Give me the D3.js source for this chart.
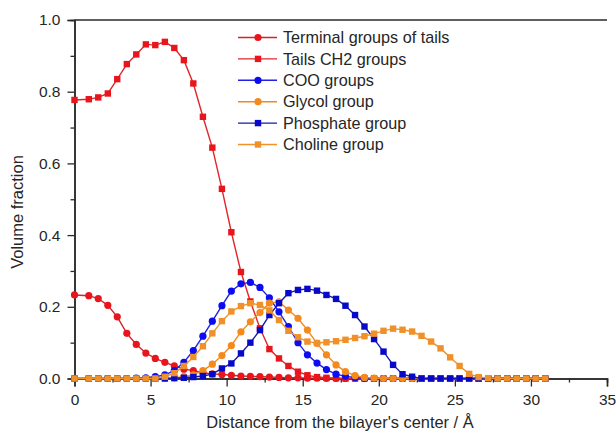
<!DOCTYPE html>
<html>
<head>
<meta charset="utf-8">
<script src="https://d3js.org/d3.v7.min.js"></script>
<style>
  body { margin: 0; background: #fff; }
  svg { display: block; font-family: "Liberation Sans", Arial, sans-serif; }
</style>
</head>
<body>
<svg width="616" height="433"></svg>
<script>
var xPos = [0, 0.94, 1.56, 2.19, 2.81, 3.44, 4.06, 4.69, 5.31, 5.94, 6.56, 7.19, 7.81, 8.44, 9.06, 9.69,
  10.31, 10.94, 11.56, 12.19, 12.81, 13.44, 14.06, 14.69, 15.31, 15.94, 16.56, 17.19, 17.81, 18.44, 19.06,
  19.69, 20.31, 20.94, 21.56, 22.19, 22.81, 23.44, 24.06, 24.69, 25.31, 25.94, 26.56, 27.19, 27.81, 28.44,
  29.06, 29.69, 30.31, 30.94];

var terminal = [0.233, 0.231, 0.223, 0.204, 0.172, 0.126, 0.095, 0.071, 0.056, 0.045, 0.035, 0.026, 0.022,
  0.016, 0.013, 0.011, 0.009, 0.007, 0.006, 0.005, 0.004, 0.003, 0.002, 0.002, 0.001, 0.001,
  0, 0, 0, 0, 0, 0, 0, 0, 0, 0, 0, 0, 0, 0, 0, 0, 0, 0, 0, 0, 0, 0, 0, 0];

var ch2 = [0.777, 0.779, 0.784, 0.795, 0.835, 0.877, 0.904, 0.932, 0.930, 0.939, 0.922, 0.888, 0.823, 0.730,
  0.644, 0.529, 0.408, 0.297, 0.215, 0.140, 0.082, 0.056, 0.035, 0.019, 0.009, 0.004, 0.002, 0.001,
  0, 0, 0, 0, 0, 0, 0, 0, 0, 0, 0, 0, 0, 0, 0, 0, 0, 0, 0, 0, 0, 0];

var coo = [0, 0, 0, 0, 0, 0, 0.001, 0.002, 0.005, 0.010, 0.022, 0.045, 0.078, 0.118, 0.160, 0.203, 0.244,
  0.264, 0.268, 0.254, 0.225, 0.186, 0.145, 0.100, 0.066, 0.043, 0.025, 0.012, 0.006, 0.003, 0.001,
  0, 0, 0, 0, 0, 0, 0, 0, 0, 0, 0, 0, 0, 0, 0, 0, 0, 0, 0];

var glycol = [0, 0, 0, 0, 0, 0, 0, 0, 0, 0.001, 0.002, 0.005, 0.010, 0.022, 0.040, 0.064, 0.092, 0.130,
  0.158, 0.184, 0.210, 0.214, 0.191, 0.168, 0.135, 0.098, 0.066, 0.038, 0.019, 0.008, 0.003, 0.001,
  0, 0, 0, 0, 0, 0, 0, 0, 0, 0, 0, 0, 0, 0, 0, 0, 0, 0];

var phosphate = [0, 0, 0, 0, 0, 0, 0, 0, 0, 0, 0.001, 0.002, 0.004, 0.007, 0.012, 0.028, 0.042, 0.070,
  0.100, 0.135, 0.177, 0.210, 0.238, 0.247, 0.250, 0.245, 0.233, 0.222, 0.203, 0.177, 0.145, 0.110,
  0.075, 0.038, 0.012, 0.005, 0, 0, 0, 0, 0, 0, 0, 0, 0, 0, 0, 0, 0, 0];

var choline = [0, 0, 0, 0, 0, 0, 0, 0, 0, 0.005, 0.015, 0.035, 0.060, 0.090, 0.126, 0.160, 0.187, 0.202,
  0.210, 0.205, 0.190, 0.163, 0.133, 0.115, 0.103, 0.099, 0.101, 0.104, 0.108, 0.113, 0.118, 0.125,
  0.133, 0.139, 0.136, 0.131, 0.119, 0.103, 0.084, 0.059, 0.035, 0.013, 0.004, 0.001, 0, 0, 0, 0, 0, 0];

var seriesNames = ['Terminal groups of tails', 'Tails CH2 groups', 'COO groups', 'Glycol group',
  'Phosphate group', 'Choline group'];
var seriesValues = [terminal, ch2, coo, glycol, phosphate, choline];

var xTicks = [0, 5, 10, 15, 20, 25, 30, 35];
var yTicks = [0, 0.2, 0.4, 0.6, 0.8, 1.0];

// look of each series, same order as the names
var lineColors = ['#d2222a', '#e0262c', '#2020e8', '#f08a20', '#1818a8', '#f09228'];
var markColors = ['#e8151d', '#e8151d', '#0c0cf0', '#f48a1c', '#0808c8', '#f0902a'];
var markShapes = ['circle', 'square', 'circle', 'circle', 'square', 'square'];

var svg = d3.select('svg');

var x = d3.scaleLinear().domain([0, 35]).range([74.5, 607]);
var y = d3.scaleLinear().domain([0, 1]).range([378.5, 20]);

var axisColor = '#2a2a2a';

// top frame line
svg.append('line')
  .attr('x1', x(0)).attr('x2', x(35))
  .attr('y1', y(1)).attr('y2', y(1))
  .attr('stroke', axisColor)
  .attr('stroke-width', 1.5);

// minor ticks
var xMinor = svg.append('g')
  .attr('transform', 'translate(0,' + y(0) + ')')
  .call(d3.axisBottom(x).tickValues(d3.range(2.5, 35, 5)).tickSize(4).tickFormat(''));
var yMinor = svg.append('g')
  .attr('transform', 'translate(' + x(0) + ',0)')
  .call(d3.axisLeft(y).tickValues(d3.range(0.1, 1, 0.2)).tickSize(4).tickFormat(''));

var xAxis = svg.append('g')
  .attr('transform', 'translate(0,' + y(0) + ')')
  .call(d3.axisBottom(x).tickValues(xTicks).tickSize(8).tickPadding(7).tickFormat(d3.format('d')));
var yAxis = svg.append('g')
  .attr('transform', 'translate(' + x(0) + ',0)')
  .call(d3.axisLeft(y).tickValues(yTicks).tickSize(7).tickPadding(7).tickFormat(d3.format('.1f')));

[xMinor, yMinor, xAxis, yAxis].forEach(function(g) {
  g.selectAll('.domain').attr('stroke', axisColor).attr('stroke-width', 1.5);
  g.selectAll('.tick line').attr('stroke', axisColor).attr('stroke-width', 1.3);
  g.selectAll('.tick text')
    .attr('fill', '#262626')
    .style('font-size', '15.5px')
    .style('font-family', '"Liberation Sans", Arial, sans-serif');
});

svg.append('text')
  .attr('x', 340)
  .attr('y', 428)
  .attr('text-anchor', 'middle')
  .attr('fill', '#262626')
  .style('font-size', '16.4px')
  .text("Distance from the bilayer's center / Å");

svg.append('text')
  .attr('transform', 'translate(23,212) rotate(-90)')
  .attr('text-anchor', 'middle')
  .attr('fill', '#262626')
  .style('font-size', '16.5px')
  .text('Volume fraction');

var line = d3.line()
  .x(function(d, i) { return x(xPos[i]); })
  .y(function(d) { return y(d); });

var drawMark = function(g, shape, color, cx, cy) {
  if (shape === 'circle') {
    g.append('circle')
      .attr('cx', cx).attr('cy', cy)
      .attr('r', 3.6)
      .attr('fill', color);
  } else {
    g.append('rect')
      .attr('x', cx - 3.2).attr('y', cy - 3.2)
      .attr('width', 6.4).attr('height', 6.4)
      .attr('fill', color);
  }
};

seriesValues.forEach(function(vals, s) {
  var g = svg.append('g');
  g.append('path')
    .datum(vals)
    .attr('d', line)
    .attr('fill', 'none')
    .attr('stroke', lineColors[s])
    .attr('stroke-width', 1.4);
  vals.forEach(function(v, i) {
    drawMark(g, markShapes[s], markColors[s], x(xPos[i]), y(v));
  });
});

// legend
var legend = svg.append('g');
seriesNames.forEach(function(name, s) {
  var ly = 37.5 + s * 21.4;
  legend.append('line')
    .attr('x1', 238).attr('x2', 277)
    .attr('y1', ly).attr('y2', ly)
    .attr('stroke', lineColors[s])
    .attr('stroke-width', 1.4);
  drawMark(legend, markShapes[s], markColors[s], 258, ly);
  legend.append('text')
    .attr('x', 283)
    .attr('y', ly + 5.6)
    .attr('fill', '#262626')
    .style('font-size', '16.2px')
    .text(name);
});
</script>
</body>
</html>
